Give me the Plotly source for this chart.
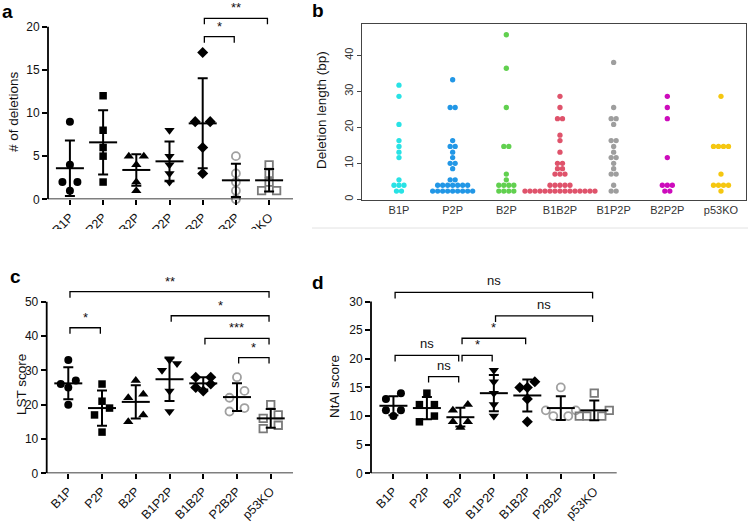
import numpy as np
import plotly.graph_objects as go

W, H = 748, 522
FONT = "Arial, Liberation Sans, sans-serif"

GROUPS = ["B1P", "P2P", "B2P", "B1P2P", "B1B2P", "P2B2P", "p53KO"]
GROUPS_B = ["B1P", "P2P", "B2P", "B1B2P", "B1P2P", "B2P2P", "p53KO"]

# panel a - number of deletions per clone (order = GROUPS)
DELETIONS = [
    [9, 4, 2, 2, 1],
    [12, 8, 6, 5, 2],
    [5, 5, 4, 2, 1],
    [8, 5, 4, 3, 2],
    [17, 9, 9, 6, 3],
    [5, 3, 2, 1, 0],
    [4, 3, 2, 1, 1],
]

# panel b - deletion lengths (bp), order = GROUPS_B
LEN_B1P = [2.3, 2.3, 3.9, 3.9, 3.9, 5.4, 11.6, 13.1, 14.7, 16.3, 20.8, 28.6, 31.7]
LEN_P2P = [2.3, 2.3, 2.3, 2.3, 2.3, 2.3, 2.3, 2.3, 2.3,
           3.9, 3.9, 3.9, 3.9, 3.9, 3.9, 3.9, 5.4, 5.4, 8.5, 10.0, 10.0,
           11.6, 13.1, 14.7, 14.7, 16.3, 25.5, 25.5, 33.2]
LEN_B2P = [2.3, 2.3, 2.3, 2.3, 3.9, 3.9, 3.9, 3.9, 5.4, 7.0, 14.7, 14.7,
           25.5, 36.4, 45.7]
LEN_B1B2P = [2.3, 2.3, 2.3, 2.3, 2.3, 2.3, 2.3, 2.3, 2.3, 2.3, 2.3, 2.3, 2.3,
             2.3, 2.3, 3.9, 3.9, 3.9, 3.9, 3.9, 7.0, 7.0, 7.0, 8.5, 8.5,
             10.0, 10.0, 13.1, 16.3, 17.8, 22.4, 22.4, 25.5, 28.6]
LEN_B1P2P = [2.3, 2.3, 3.9, 7.0, 7.0, 8.5, 10.0, 11.6, 11.6, 13.1, 14.7,
             16.3, 16.3, 20.8, 22.4, 22.4, 25.5, 38.0]
LEN_B2P2P = [2.3, 2.3, 3.9, 3.9, 3.9, 11.6, 22.4, 25.5, 28.6]
LEN_P53KO = [2.3, 3.9, 3.9, 3.9, 3.9, 7.0, 14.7, 14.7, 14.7, 14.7, 28.6]
LENGTHS = [LEN_B1P, LEN_P2P, LEN_B2P, LEN_B1B2P, LEN_B1P2P, LEN_B2P2P, LEN_P53KO]
B_COLORS = ["#28E2E5", "#2297E6", "#61D04F", "#DF536B", "#9E9E9E", "#CD0BBC", "#F5C710"]

# panel c - LST score
LST = [
    [33, 27, 26, 25, 20],
    [26, 21, 19, 17, 12],
    [27, 23, 22, 17, 15],
    [33, 32, 30, 24, 18],
    [28, 28, 26, 25, 24],
    [28, 24, 22, 19, 18],
    [20, 17, 16, 14, 13],
]

# panel d - NtAI score
NTAI = [
    [14, 13, 11, 11, 10],
    [14, 12, 12, 10, 9],
    [12, 11, 9, 9, 8],
    [18, 16, 14, 12, 10],
    [16, 15, 15, 13, 9],
    [15, 11, 11, 10, 10],
    [14, 11, 10, 10, 10],
]

# significance brackets: (from group, to group, height, label)
BRACKETS_A = [(4, 5, 18.84, "*"), (4, 6, 20.97, "**")]
BRACKETS_C = [(0, 6, 52.9, "**"), (3, 6, 45.9, "*"), (4, 6, 39.3, "***"),
              (5, 6, 33.7, "*"), (0, 1, 42.4, "*")]
BRACKETS_D = [(0, 6, 31.6, "ns"), (3, 6, 27.5, "ns"), (2, 4, 23.6, "*"),
              (0, 2, 20.6, "ns"), (2, 3, 20.6, "*"), (1, 2, 16.9, "ns")]

MARKERS = [
    dict(symbol="circle", size=8, color="black"),
    dict(symbol="square", size=7.5, color="black"),
    dict(symbol="triangle-up", size=9, color="black"),
    dict(symbol="triangle-down", size=9, color="black"),
    dict(symbol="diamond", size=8.5, color="black"),
    dict(symbol="circle-open", size=8, color="#A0A0A0", line=dict(width=1.8, color="#A0A0A0")),
    dict(symbol="square-open", size=7.5, color="#7A7A7A", line=dict(width=1.8, color="#7A7A7A")),
]


def px_x(p):
    return p / W


def px_y(p):
    return 1 - p / H


def swarm(values, unit_px, cat_px, dia=8.0, step=7.5):
    """GraphPad-ish spreading: overlapping values are put side by side."""
    vals = np.asarray(values, float)
    order = np.argsort(vals, kind="stable")
    rows = []
    for i in order:
        if rows and (vals[i] - vals[rows[-1][0]]) * unit_px < dia:
            rows[-1].append(i)
        else:
            rows.append([i])
    off = np.zeros(len(vals))
    for row in rows:
        n = len(row)
        slots = [0] if n % 2 else []
        for k in range(1, n // 2 + 1):
            slots += [-k, k]
        for i, s in zip(row, slots):
            off[i] = s * step / cat_px
    return off


fig = go.Figure()


def dot_panel(data, ax, unit_px, cat_px):
    xa, ya = "x" + ax, "y" + ax
    for i, vals in enumerate(data):
        off = swarm(vals, unit_px, cat_px)
        fig.add_trace(go.Scatter(
            x=i + off, y=vals, mode="markers", marker=MARKERS[i],
            cliponaxis=False, showlegend=False, xaxis=xa, yaxis=ya,
        ))
    for i, vals in enumerate(data):
        fig.add_trace(go.Scatter(
            x=[i], y=[np.mean(vals)], mode="markers",
            marker=dict(symbol="line-ew", size=20, line=dict(width=2, color="black")),
            error_y=dict(type="data", array=[np.std(vals, ddof=1)], color="black",
                         thickness=2, width=5),
            cliponaxis=False, showlegend=False, xaxis=xa, yaxis=ya,
        ))


# panel geometry (pixels)
PANELS = {
    "":  dict(x0=48, x1=293, xr=[-0.66, 6.72], top=10, zero=199.3, unit=8.63, ytop=20, dt=5),
    "3": dict(x0=46.7, x1=293, xr=[-0.64, 6.66], top=290, zero=473.3, unit=3.433, ytop=50, dt=10),
    "4": dict(x0=371, x1=616.7, xr=[-0.67, 6.67], top=290, zero=473.3, unit=5.723, ytop=30, dt=5),
}

dot_panel(DELETIONS, "", 8.63, 33.2)
dot_panel(LST, "3", 3.433, 33.7)
dot_panel(NTAI, "4", 5.723, 33.5)

# panel b beeswarm
B_CAT = 53.67
for i, vals in enumerate(LENGTHS):
    xs, ys = [], []
    for v in sorted(set(vals)):
        n = vals.count(v)
        for k in range(n):
            xs.append(i + (k - (n - 1) / 2) * 5.0 / B_CAT)
            ys.append(v)
    fig.add_trace(go.Scatter(
        x=xs, y=ys, mode="markers",
        marker=dict(symbol="circle", size=5.3, color=B_COLORS[i]),
        showlegend=False, xaxis="x2", yaxis="y2",
    ))

shapes, annotations = [], []
layout = {}
for ax, p in PANELS.items():
    n = ax if ax else ""
    ymax = (p["zero"] - p["top"]) / p["unit"]
    layout["xaxis" + n] = dict(
        domain=[px_x(p["x0"]), px_x(p["x1"])], range=p["xr"], anchor="y" + n,
        tickvals=list(range(7)), ticktext=GROUPS, tickangle=-45,
        ticks="outside", ticklen=5, tickwidth=1.6, tickcolor="black",
        showline=False, showgrid=False, zeroline=False, automargin=False,
        tickfont=dict(size=12.5, color="#111"),
    )
    layout["yaxis" + n] = dict(
        domain=[px_y(p["zero"]), px_y(p["top"])], range=[0, ymax], anchor="x" + n,
        tickvals=list(range(0, p["ytop"] + 1, p["dt"])),
        ticks="outside", ticklen=5, tickwidth=1.6, tickcolor="black",
        showline=False, showgrid=False, zeroline=False, automargin=False,
        tickfont=dict(size=12, color="#111"),
    )
    xr, yr = "x" + n, "y" + n
    shapes.append(dict(type="line", xref=xr + " domain", yref=yr, x0=0, x1=0,
                       y0=0, y1=p["ytop"], line=dict(color="black", width=1.8)))
    shapes.append(dict(type="line", xref=xr + " domain", yref=yr, x0=0, x1=1,
                       y0=0, y1=0, line=dict(color="black", width=1.8)))

for ax, brackets in [("", BRACKETS_A), ("3", BRACKETS_C), ("4", BRACKETS_D)]:
    p = PANELS[ax]
    drop = 6.0 / p["unit"]
    for g0, g1, h, lab in brackets:
        xa, xb = g0 + 0.05, g1 - 0.05
        shapes.append(dict(
            type="path", xref="x" + ax, yref="y" + ax,
            path=f"M {xa},{h - drop} L {xa},{h} L {xb},{h} L {xb},{h - drop}",
            line=dict(color="black", width=1.3),
        ))
        annotations.append(dict(
            x=(g0 + g1) / 2, y=h, xref="x" + ax, yref="y" + ax, text=lab,
            showarrow=False, yanchor="bottom", yshift=1 if lab != "ns" else 2,
            font=dict(size=13, color="#111"),
        ))

layout["xaxis2"] = dict(
    domain=[px_x(362), px_x(746)], range=[-0.689, 6.466], anchor="y2",
    tickvals=list(range(7)), ticktext=GROUPS_B, ticks="",
    showline=True, mirror=True, linecolor="#444", linewidth=1, automargin=False,
    showgrid=False, zeroline=False, tickfont=dict(size=11, color="#333"),
)
layout["yaxis2"] = dict(
    domain=[px_y(200), px_y(24.3)], range=[-0.19, 48.6], anchor="x2",
    tickvals=[0, 10, 20, 30, 40], tickangle=-90,
    ticks="outside", ticklen=4, tickcolor="#444", automargin=False,
    showline=True, mirror=True, linecolor="#444", linewidth=1,
    showgrid=False, zeroline=False, tickfont=dict(size=11, color="#333"),
)

# y titles
for text, x, y in [("# of deletions", 13, 112), ("Deletion length (bp)", 321, 110),
                   ("LST score", 21, 385), ("NtAI score", 334, 387)]:
    annotations.append(dict(text=text, x=px_x(x), y=px_y(y), xref="paper", yref="paper",
                            textangle=-90, showarrow=False, xanchor="center", yanchor="middle",
                            font=dict(size=13.5, color="#111")))

# panel letters
for text, x, y in [("a", 8, 12), ("b", 318, 11), ("c", 15, 276), ("d", 318, 282)]:
    annotations.append(dict(text=f"<b>{text}</b>", x=px_x(x), y=px_y(y), xref="paper",
                            yref="paper", showarrow=False, xanchor="center", yanchor="middle",
                            font=dict(size=19, color="black")))

# figure crop below panel a and thin rule under panel b
shapes.append(dict(type="rect", xref="paper", yref="paper", x0=px_x(25), x1=px_x(305),
                   y0=px_y(250), y1=px_y(229), fillcolor="white", line=dict(width=0),
                   layer="above"))
shapes.append(dict(type="line", xref="paper", yref="paper", x0=px_x(312), x1=px_x(748),
                   y0=px_y(228), y1=px_y(228), line=dict(color="#E2E2E2", width=1)))

fig.update_layout(
    width=W, height=H,
    margin=dict(l=0, r=0, t=0, b=0, autoexpand=False),
    plot_bgcolor="white", paper_bgcolor="white",
    font=dict(family=FONT, color="#111"),
    shapes=shapes, annotations=annotations,
    **layout,
)

# the page's default body margin would shift the figure by 8 px
fig.write_html("out.html", config={"displayModeBar": False},
               post_script="document.body.style.margin = '0';")
